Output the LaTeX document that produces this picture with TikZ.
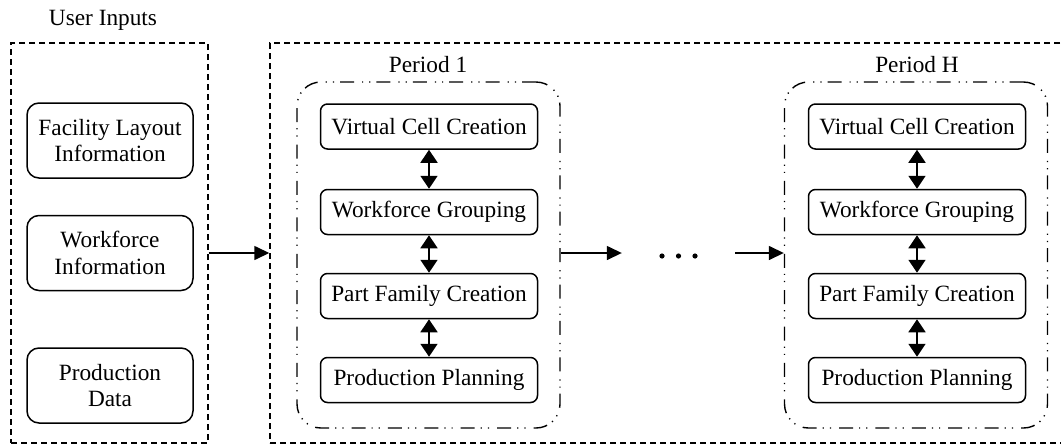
\documentclass[tikz,border=0pt]{standalone}
\usepackage{fontspec}
\setmainfont{Liberation Serif}
\usetikzlibrary{arrows.meta}
\tikzset{
  lbl/.style={font=\fontsize{23.3}{27}\selectfont, inner sep=0pt},
  inbox/.style={draw, line width=1.5pt, rounded corners=12pt, minimum width=166pt, minimum height=75pt, align=center, font=\fontsize{23.3}{26.5}\selectfont, inner sep=0pt},
  stepbox/.style={draw, line width=1.5pt, rounded corners=7pt, minimum width=217pt, minimum height=45pt, font=\fontsize{23.3}{27}\selectfont, inner sep=0pt},
  outerbox/.style={draw, line width=1.4pt, dash pattern=on 6pt off 4pt, minimum height=400pt, inner sep=0pt},
  periodbox/.style={draw, line width=1.4pt, rounded corners=24pt, dash pattern=on 14pt off 6pt on 1.2pt off 6pt on 1.2pt off 8pt, minimum width=263pt, minimum height=346pt, inner sep=0pt},
  arr/.style={line width=1.5pt, -{Triangle[length=15pt,width=14pt]}},
  darr/.style={line width=1.5pt, {Triangle[length=13pt,width=17pt]}-{Triangle[length=13pt,width=17pt]}},
}
\begin{document}
\begin{tikzpicture}[x=1pt,y=-1pt]
\useasboundingbox (0,0) rectangle (1061,445);
% outer boxes
\node[outerbox, minimum width=197pt] (inputs) at (109.5,243) {};
\node[outerbox, minimum width=810pt] (horizon) at (675,243) {};
\node[lbl] (uilabel) at (103,20) {User Inputs};
% input boxes
\node[inbox] (fli) at (110,140.5) {Facility Layout\\Information};
\node[inbox] (wfi) at (110,253) {Workforce\\Information};
\node[inbox] (pd) at (110,385.5) {Production\\Data};
% period boxes
\node[periodbox] (p1) at (428.5,255) {};
\node[periodbox] (pH) at (916,255) {};
\node[lbl] (p1label) at (428,65) {Period 1};
\node[lbl] (pHlabel) at (917,65) {Period H};
% period 1 steps
\node[stepbox] (vc1) at (429,126.5) {Virtual Cell Creation};
\node[stepbox] (wg1) at (429,212) {Workforce Grouping};
\node[stepbox] (pf1) at (429,296) {Part Family Creation};
\node[stepbox] (pp1) at (429,380) {Production Planning};
% period H steps
\node[stepbox] (vcH) at (917,126.5) {Virtual Cell Creation};
\node[stepbox] (wgH) at (917,212) {Workforce Grouping};
\node[stepbox] (pfH) at (917,296) {Part Family Creation};
\node[stepbox] (ppH) at (917,380) {Production Planning};
% dots
\node[minimum width=113pt, minimum height=10pt, inner sep=0pt] (dots) at (678.5,253) {};
\foreach \dx in {-16.5,0,16.5} \fill ([xshift=\dx pt,yshift=-3pt]dots.center) circle (2.6pt);
% connectors
\draw[arr] (inputs.east |- wfi.center) -- (horizon.west |- wfi.center);
\draw[arr] (p1.east |- wfi.center) -- (dots.west);
\draw[arr] (dots.east) -- (pH.west |- wfi.center);
\draw[darr] (vc1.south) -- (wg1.north);
\draw[darr] (wg1.south) -- (pf1.north);
\draw[darr] (pf1.south) -- (pp1.north);
\draw[darr] (vcH.south) -- (wgH.north);
\draw[darr] (wgH.south) -- (pfH.north);
\draw[darr] (pfH.south) -- (ppH.north);
\end{tikzpicture}
\end{document}
